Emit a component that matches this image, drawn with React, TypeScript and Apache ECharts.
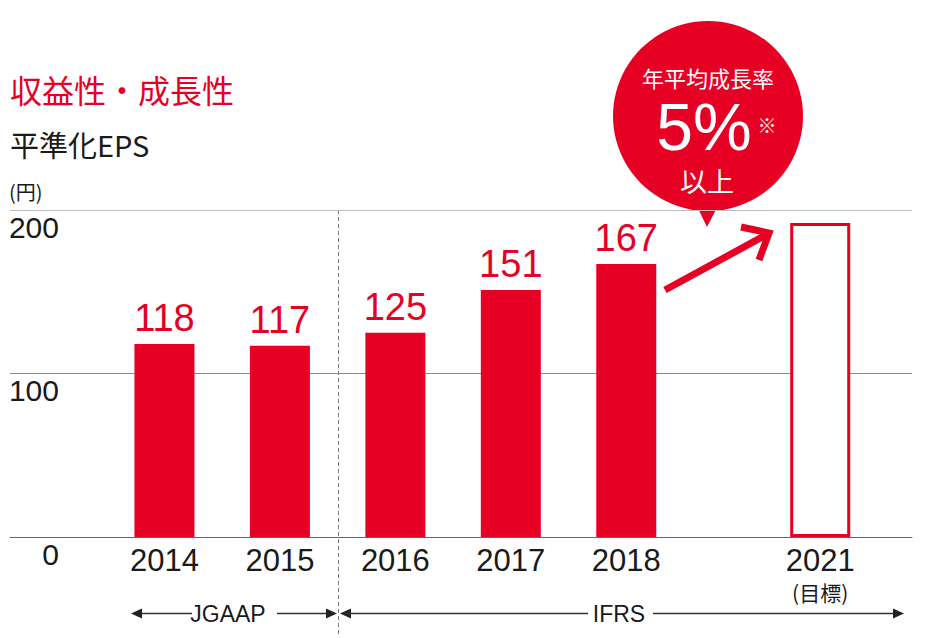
import React, { useEffect, useRef } from "react";
import * as echarts from "echarts";

// ---- data ----
const categories = ["2014", "2015", "2016", "2017", "2018", "2021"];
const categoryNotes = ["", "", "", "", "", "(目標)"];
const epsValues = [118, 117, 125, 151, 167];
const target2021 = 192;
const slotPositions = [0, 1, 2, 3, 4, 5.68];
const yTicks = [0, 100, 200];

const RED = "#e60023";
const INK = "#1a1a1a";
const NARROW = "'Liberation Sans Narrow', 'Arial Narrow', 'Liberation Sans', sans-serif";
const CJK = "'Noto Sans CJK JP', 'Noto Sans', sans-serif";

export default function App() {
  const ref = useRef<HTMLDivElement>(null);

  useEffect(() => {
    if (!ref.current) return;
    const chart = echarts.init(ref.current, null, { renderer: "svg" });

    const barData: any[] = epsValues.map((v, i) => ({ value: [slotPositions[i], v] }));
    barData.push({
      value: [slotPositions[5], target2021],
      itemStyle: { color: "#ffffff", borderColor: RED, borderWidth: 3 },
      label: { show: false },
    });

    const labelFor = (val: number) => {
      const idx = slotPositions.findIndex((p) => Math.abs(p - val) < 1e-6);
      if (idx < 0) return "";
      const note = categoryNotes[idx];
      return note ? `{y|${categories[idx]}}\n{n|${note}}` : `{y|${categories[idx]}}`;
    };

    const arrowY = 613.5;
    const lineStyle = { stroke: "#333", lineWidth: 1.3 };
    const head = (tipX: number, dir: number) => ({
      type: "polygon",
      shape: { points: [[tipX, arrowY], [tipX - dir * 11, arrowY - 5], [tipX - dir * 11, arrowY + 5]] },
      style: { fill: "#222" },
    });

    chart.setOption({
      animation: false,
      grid: { left: 10, right: 13, top: 210, bottom: 101 },
      xAxis: {
        type: "value",
        min: -1.338,
        max: 6.475,
        axisLine: { show: true, lineStyle: { color: "#666", width: 1 } },
        axisTick: { show: false },
        splitLine: { show: false },
        axisLabel: {
          customValues: slotPositions,
          formatter: (v: number) => labelFor(v),
          margin: 5,
          rich: {
            y: { fontSize: 31, fontFamily: NARROW, color: INK, lineHeight: 37 },
            n: { fontSize: 21, fontFamily: CJK, color: INK, lineHeight: 26 },
          },
        },
      },
      yAxis: {
        type: "value",
        min: yTicks[0],
        max: yTicks[yTicks.length - 1],
        interval: 100,
        axisLine: { show: false },
        axisTick: { show: false },
        splitLine: { lineStyle: { color: ["#666", "#8a8a8a", "#bdbdbd"], width: 1 } },
        axisLabel: {
          inside: true,
          align: "right",
          verticalAlign: "top",
          margin: 49,
          fontSize: 30,
          fontFamily: NARROW,
          color: INK,
          padding: [2, 0, 0, 0],
        },
      },
      series: [
        {
          type: "bar",
          barWidth: 60,
          data: barData,
          itemStyle: { color: RED },
          label: {
            show: true,
            position: "top",
            distance: 7,
            color: RED,
            fontSize: 38,
            fontFamily: NARROW,
            formatter: (p: any) => String(p.value[1]),
          },
        },
      ],
      graphic: [
        { type: "text", x: 10, y: 73, style: { text: "収益性・成長性", fill: RED, fontSize: 32, fontFamily: CJK, align: "left", verticalAlign: "top" } },
        { type: "text", x: 10, y: 129, style: { text: "平準化EPS", fill: INK, fontSize: 29, fontFamily: CJK, align: "left", verticalAlign: "top" } },
        { type: "text", x: 9, y: 181, style: { text: "(円)", fill: INK, fontSize: 20, fontFamily: CJK, align: "left", verticalAlign: "top" } },
        // divider
        { type: "line", shape: { x1: 338.5, y1: 210, x2: 338.5, y2: 634 }, style: { stroke: "#777", lineWidth: 1, lineDash: [4, 3] } },
        // JGAAP row
        { type: "line", shape: { x1: 135, y1: arrowY, x2: 192, y2: arrowY }, style: lineStyle },
        head(131, -1),
        { type: "text", x: 228, y: arrowY, style: { text: "JGAAP", fill: INK, fontSize: 23, fontFamily: NARROW, align: "center", verticalAlign: "middle" } },
        { type: "line", shape: { x1: 277, y1: arrowY, x2: 332, y2: arrowY }, style: lineStyle },
        head(337, 1),
        // IFRS row
        head(340, -1),
        { type: "line", shape: { x1: 345, y1: arrowY, x2: 588, y2: arrowY }, style: lineStyle },
        { type: "text", x: 619, y: arrowY, style: { text: "IFRS", fill: INK, fontSize: 23, fontFamily: NARROW, align: "center", verticalAlign: "middle" } },
        { type: "line", shape: { x1: 653, y1: arrowY, x2: 899, y2: arrowY }, style: lineStyle },
        head(904, 1),
        // growth arrow
        { type: "line", shape: { x1: 665, y1: 290, x2: 766, y2: 235 }, style: { stroke: RED, lineWidth: 7 } },
        { type: "polyline", shape: { points: [[741, 227], [769, 233], [759, 260]] }, style: { stroke: RED, lineWidth: 7, fill: "none", lineJoin: "miter" } },
        // bubble
        { type: "circle", shape: { cx: 708, cy: 116, r: 95 }, style: { fill: RED } },
        { type: "polygon", shape: { points: [[694, 200], [721, 200], [707, 227]] }, style: { fill: RED } },
        { type: "text", x: 708, y: 77, style: { text: "年平均成長率", fill: "#fff", fontSize: 22, fontFamily: CJK, align: "center", verticalAlign: "middle" } },
        { type: "text", x: 704, y: 127, style: { text: "5%", fill: "#fff", fontSize: 66, lineHeight: 54, fontFamily: NARROW, align: "center", verticalAlign: "middle" } },
        { type: "text", x: 767, y: 124, style: { text: "※", fill: "#fff", fontSize: 19, fontFamily: CJK, align: "center", verticalAlign: "middle" } },
        { type: "text", x: 707, y: 180, style: { text: "以上", fill: "#fff", fontSize: 27, lineHeight: 30, fontFamily: CJK, align: "center", verticalAlign: "middle" } },
      ],
    });

    return () => chart.dispose();
  }, []);

  return <div ref={ref} style={{ width: 925, height: 638, position: "absolute", left: 0, top: 0 }} />;
}
